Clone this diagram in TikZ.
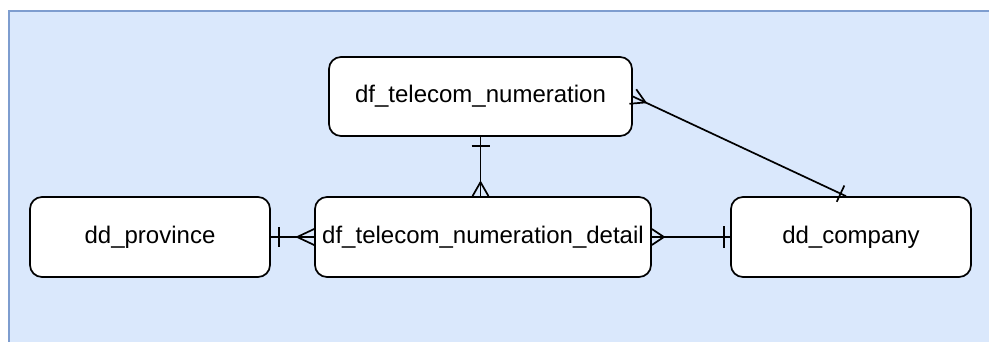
\documentclass[tikz,border=0pt]{standalone}
\usepackage{fontspec}
\setmainfont{Liberation Sans}
\usetikzlibrary{calc}
\definecolor{bgfill}{HTML}{DAE8FC}
\definecolor{bgline}{HTML}{7E9DCF}
\begin{document}
\begin{tikzpicture}[x=1pt,y=-1pt,
  entity/.style={draw=black, fill=white, rounded corners=12pt, line width=1.7pt,
    minimum height=80pt, font=\fontsize{24}{28}\selectfont, inner sep=0pt},
  rel/.style={line width=1.7pt, draw=black}]
\useasboundingbox (0,0) rectangle (989,341);
\begin{scope}
\clip (0,0) rectangle (989,341);
\draw[fill=bgfill, draw=bgline, line width=2pt] (9,11) rectangle (1000,360);
\end{scope}
\node[entity, minimum width=303pt, minimum height=79pt] (num) at (480.5,96.5) {df\_telecom\_numeration};
\node[entity, minimum width=240pt] (prov) at (150,237) {dd\_province};
\node[entity, minimum width=336pt] (det) at (483,237) {df\_telecom\_numeration\_detail};
\node[entity, minimum width=240pt] (comp) at (851,237) {dd\_company};
% numeration -> detail
\coordinate (vt) at (num.south |- det.north);
\draw[rel] (num.south) -- (vt);
\draw[rel] ($(num.south)+(-9,9)$) -- ($(num.south)+(9,9)$);
\draw[rel] ($(vt)+(-8,0)$) -- ($(vt)+(0,-14)$) -- ($(vt)+(8,0)$);
% province -> detail
\draw[rel] (prov.east) -- (det.west);
\draw[rel] ($(prov.east)+(8,-10)$) -- ($(prov.east)+(8,10)$);
\draw[rel] ($(det.west)+(0,-8)$) -- ($(det.west)+(-17,0)$) -- ($(det.west)+(0,8)$);
% detail -> company
\draw[rel] (det.east) -- (comp.west);
\draw[rel] ($(det.east)+(0,-8)$) -- ($(det.east)+(12,0)$) -- ($(det.east)+(0,8)$);
\draw[rel] ($(comp.west)+(-6,-11)$) -- ($(comp.west)+(-6,11)$);
% numeration -> company
\coordinate (A) at (num.east);
\coordinate (B) at ($(comp.north)+(-5,0)$);
\draw[rel] (A) -- (B);
\coordinate (P) at ($(A)!14pt!(B)$);
\draw[rel] ($(A)!8pt!90:(B)$) -- (P) -- ($(A)!8pt!-90:(B)$);
\coordinate (Q) at ($(B)!6pt!(A)$);
\draw[rel] ($(Q)!9pt!90:(B)$) -- ($(Q)!9pt!-90:(B)$);
\end{tikzpicture}
\end{document}
